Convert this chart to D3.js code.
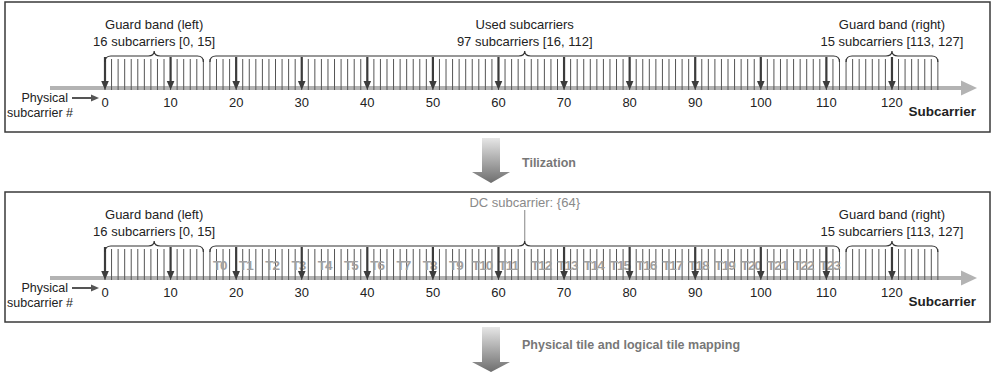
<!DOCTYPE html>
<html><head><meta charset="utf-8">
<script src="https://cdn.jsdelivr.net/npm/d3@7"></script>
<style>
html,body{margin:0;padding:0;background:#fff;}
svg{display:block;font-family:"Liberation Sans",Arial,Helvetica,sans-serif;}
</style></head>
<body>
<svg id="c" width="993" height="377"></svg>
<script>
// ---- data ----
const subcarriers = d3.range(0, 128);             // physical subcarrier indices 0..127
const tickValues = [0,10,20,30,40,50,60,70,80,90,100,110,120];
const bandNames = ["Guard band (left)", "Used subcarriers", "Guard band (right)"];
const bandCounts = ["16 subcarriers [0, 15]", "97 subcarriers [16, 112]", "15 subcarriers [113, 127]"];
const bandStart = [0, 16, 113];
const bandEnd = [15, 112, 127];
const bandPeak = [7.5, 64, 120];
const dcSubcarrier = 64;
const tileNames = ["T0","T1","T2","T3","T4","T5","T6","T7","T8","T9","T10","T11",
                   "T12","T13","T14","T15","T16","T17","T18","T19","T20","T21","T22","T23"];
const tileStart = [16,20,24,28,32,36,40,44,48,52,56,60,65,69,73,77,81,85,89,93,97,101,105,109];
const tileSize = 4;
const stepLabels = ["Tilization", "Physical tile and logical tile mapping"];

// ---- drawing ----
const svg = d3.select("#c");
const x = d3.scaleLinear().domain([0, 127]).range([105, 105 + 127 * 6.558]);

const defs = svg.append("defs");
const g1 = defs.append("linearGradient").attr("id","arrGrad").attr("x1",0).attr("y1",0).attr("x2",0).attr("y2",1);
g1.append("stop").attr("offset","0%").attr("stop-color","#e6e6e6");
g1.append("stop").attr("offset","100%").attr("stop-color","#6e6e6e");

function bracePath(x1, x2, xm, yTop, yPeak, yEnd) {
  const r = 6;
  return `M${x1},${yEnd} Q${x1},${yTop} ${x1 + r},${yTop} L${xm - r},${yTop} Q${xm},${yTop} ${xm},${yPeak} ` +
         `Q${xm},${yTop} ${xm + r},${yTop} L${x2 - r},${yTop} Q${x2},${yTop} ${x2},${yEnd}`;
}

function panel(top, withTiles) {
  const g = svg.append("g").attr("transform", `translate(0,${top})`);
  g.append("rect").attr("x", 5).attr("y", 0).attr("width", 985).attr("height", 130)
    .attr("fill", "none").attr("stroke", "#3a3a3a").attr("stroke-width", 1.5);

  const axisY = 86;
  g.append("line").attr("x1", 50).attr("x2", 963).attr("y1", axisY).attr("y2", axisY)
    .attr("stroke", "#b3b3b3").attr("stroke-width", 4);
  g.append("path").attr("d", `M961,${axisY - 7.5} L977,${axisY} L961,${axisY + 7.5} Z`).attr("fill", "#b3b3b3");

  g.selectAll("line.sc").data(subcarriers).enter().append("line").attr("class", "sc")
    .attr("x1", d => x(d)).attr("x2", d => x(d)).attr("y1", 57).attr("y2", 88)
    .attr("stroke", "#555").attr("stroke-width", 1);

  if (withTiles) {
    g.selectAll("text.tile").data(tileNames).enter().append("text").attr("class", "tile")
      .attr("x", (d, i) => x(tileStart[i] + (tileSize - 1) / 2))
      .attr("y", 78).attr("text-anchor", "middle")
      .attr("font-size", 13.5).attr("font-weight", "bold").attr("letter-spacing", -1)
      .attr("fill", "#a0a0a0").text(d => d);
  }

  const ta = g.selectAll("g.ta").data(tickValues).enter().append("g").attr("class", "ta");
  ta.append("line").attr("x1", d => x(d)).attr("x2", d => x(d)).attr("y1", 55).attr("y2", 80)
    .attr("stroke", "#3c3c3c").attr("stroke-width", 2.2);
  ta.append("path").attr("d", d => `M${x(d) - 3.8},${79} L${x(d) + 3.8},${79} L${x(d)},${88} Z`).attr("fill", "#3c3c3c");

  g.selectAll("text.tk").data(tickValues).enter().append("text").attr("class", "tk")
    .attr("x", d => x(d)).attr("y", 105).attr("text-anchor", "middle")
    .attr("font-size", 13).attr("fill", "#222").text(d => d);

  bandStart.forEach((s, i) => {
    g.append("path").attr("d", bracePath(x(s), x(bandEnd[i]), x(bandPeak[i]), 54, 49, 60))
      .attr("fill", "none").attr("stroke", "#333").attr("stroke-width", 1.2);
  });

  bandNames.forEach((n, i) => {
    if (withTiles && i === 1) return;
    const cx = i === 0 ? (x(bandStart[0]) + x(bandEnd[0])) / 2 : x(bandPeak[i]);
    g.append("text").attr("x", cx).attr("y", 27).attr("text-anchor", "middle")
      .attr("font-size", 13).attr("fill", "#222").text(n);
    g.append("text").attr("x", cx).attr("y", 44).attr("text-anchor", "middle")
      .attr("font-size", 13).attr("fill", "#222").text(bandCounts[i]);
  });

  if (withTiles) {
    g.append("line").attr("x1", x(dcSubcarrier)).attr("x2", x(dcSubcarrier)).attr("y1", 18).attr("y2", 49)
      .attr("stroke", "#999").attr("stroke-width", 1.2);
    g.append("text").attr("x", x(dcSubcarrier)).attr("y", 15).attr("text-anchor", "middle")
      .attr("font-size", 13).attr("fill", "#8a8a8a").text(`DC subcarrier: {${dcSubcarrier}}`);
  }

  g.append("text").attr("x", 68).attr("y", 100).attr("text-anchor", "end")
    .attr("font-size", 12.5).attr("fill", "#222").text("Physical");
  g.append("text").attr("x", 7).attr("y", 115)
    .attr("font-size", 12.5).attr("fill", "#222").text("subcarrier #");
  g.append("line").attr("x1", 72).attr("x2", 92).attr("y1", 96).attr("y2", 96)
    .attr("stroke", "#555").attr("stroke-width", 2);
  g.append("path").attr("d", "M91,92.5 L99,96 L91,99.5 Z").attr("fill", "#555");

  g.append("text").attr("x", 976).attr("y", 114).attr("text-anchor", "end")
    .attr("font-size", 13.5).attr("font-weight", "bold").attr("fill", "#222").text("Subcarrier");
}

panel(2, false);
panel(192, true);

function stepArrow(yTop, yHead, yTip, label, ly) {
  svg.append("path")
    .attr("d", `M482,${yTop} L500,${yTop} L500,${yHead} L510,${yHead} L491,${yTip} L472,${yHead} L482,${yHead} Z`)
    .attr("fill", "url(#arrGrad)");
  svg.append("text").attr("x", 522).attr("y", ly)
    .attr("font-size", 12.5).attr("font-weight", "bold").attr("fill", "#777").text(label);
}
stepArrow(138, 172, 183, stepLabels[0], 167);
stepArrow(327, 362, 372, stepLabels[1], 349);
</script>
</body></html>
